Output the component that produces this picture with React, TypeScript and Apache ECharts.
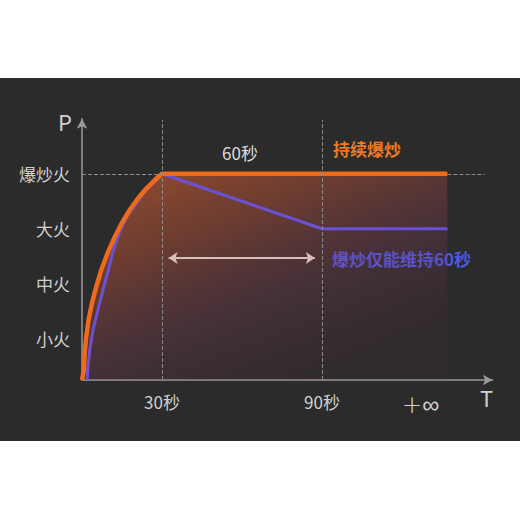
import React, { useEffect, useRef } from "react";
import * as echarts from "echarts";

const yLevels = [1, 2, 3, 4];
const yLevelNames = ["小火", "中火", "大火", "爆炒火"];
const xTickValues = [30, 90, 127];
const xTickNames = ["30秒", "90秒", "+∞"];

const orangeCurve: [number, number][] = [
  [0, 0.25], [0.75, 0.44], [1.0, 0.74], [1.6, 1.04], [2.5, 1.35],
  [3.75, 1.65], [5.36, 1.95], [7.24, 2.25], [9.86, 2.59], [12.37, 2.86],
  [14.9, 3.1], [18.0, 3.35], [21.1, 3.56], [24.3, 3.74], [27.4, 3.89],
  [30, 4], [137, 4],
];
const blueCurve: [number, number][] = [
  [1.9, 0.25], [2.25, 0.5], [2.89, 0.8], [4.12, 1.16], [6.0, 1.53],
  [7.87, 1.89], [9.9, 2.25], [11.6, 2.59], [14.2, 2.95], [16.6, 3.2],
  [19.2, 3.38], [23.6, 3.68], [29.2, 3.95], [30, 4], [90, 3], [137, 3],
];

const FONT = "'Noto Sans CJK SC', 'Noto Sans', sans-serif";

export default function App() {
  const ref = useRef<HTMLDivElement>(null);
  useEffect(() => {
    document.body.style.margin = "0";
    const chart = echarts.init(ref.current!, null, { renderer: "svg" });
    const dash = { type: "dashed", color: "#8a8a8a", width: 1 };
    chart.setOption({
      animation: false,
      grid: { left: 82, top: 118.75, width: 410.7, height: 261.25 },
      xAxis: {
        type: "value",
        min: 0,
        max: 154,
        splitLine: { show: false },
        axisTick: { show: false },
        axisLine: {
          lineStyle: { color: "#9a9a9a", width: 1.5 },
          symbol: ["none", "arrow"],
          symbolSize: [8, 10],
        },
        axisLabel: {
          customValues: xTickValues,
          formatter: (v: number) => {
            const s = xTickNames[xTickValues.indexOf(v)] ?? "";
            return s === "+∞" ? "{inf|+∞}" : s;
          },
          rich: { inf: { fontSize: 24, color: "#d0d0d0", fontFamily: "'DejaVu Sans', sans-serif", fontWeight: 200 } },
          color: "#d0d0d0",
          fontSize: 17,
          fontFamily: FONT,
          margin: 13,
        },
      },
      yAxis: {
        type: "value",
        min: 0.25,
        max: 5,
        splitLine: { show: false },
        axisTick: { show: false },
        axisLine: {
          show: true,
          lineStyle: { color: "#9a9a9a", width: 1.5 },
          symbol: ["none", "arrow"],
          symbolSize: [8, 10],
        },
        axisLabel: {
          customValues: yLevels,
          formatter: (v: number) => yLevelNames[yLevels.indexOf(v)] ?? "",
          color: "#d0d0d0",
          fontSize: 17,
          fontFamily: FONT,
          margin: 12,
        },
      },
      graphic: [
        { type: "text", left: 58, top: 110, style: { text: "P", fill: "#d0d0d0", fontSize: 22, fontFamily: FONT } },
        { type: "text", left: 480, top: 386, style: { text: "T", fill: "#d0d0d0", fontSize: 22, fontFamily: FONT } },
        { type: "text", x: 240, y: 152, style: { text: "60秒", fill: "#dcdcdc", fontSize: 17, fontFamily: FONT, align: "center", verticalAlign: "middle" } },
        { type: "text", x: 367, y: 148, style: { text: "持续爆炒", fill: "#f07a22", fontSize: 17, fontWeight: "bold", fontFamily: FONT, align: "center", verticalAlign: "middle" } },
        { type: "text", x: 332, y: 258, style: { text: "爆炒仅能维持60秒", fill: "#4d58e2", fontSize: 17, fontWeight: "bold", fontFamily: FONT, align: "left", verticalAlign: "middle" } },
      ],
      series: [
        {
          type: "line",
          data: orangeCurve,
          smooth: false,
          symbol: "none",
          z: 2,
          silent: true,
          lineStyle: { width: 0, opacity: 0 },
          areaStyle: {
            color: new echarts.graphic.LinearGradient(0, 0, 0.7, 1, [
              { offset: 0, color: "rgba(236,104,48,0.82)" },
              { offset: 0.35, color: "rgba(205,86,56,0.56)" },
              { offset: 0.68, color: "rgba(145,62,100,0.32)" },
              { offset: 1, color: "rgba(85,40,60,0.16)" },
            ]),
          },
          markLine: {
            silent: true,
            symbol: "none",
            label: { show: false },
            lineStyle: dash,
            data: [
              [{ coord: [0, 4] }, { coord: [30, 4] }],
              [{ coord: [137, 4] }, { coord: [151, 4] }],
              [{ coord: [30, 0.25] }, { coord: [30, 4.98] }],
              [{ coord: [90, 0.25] }, { coord: [90, 4.98] }],
              [
                { coord: [32.5, 2.47], symbol: "arrow", symbolSize: [9, 9], lineStyle: { type: "solid", color: "#d8c0ba", width: 2 } },
                { coord: [87.3, 2.47], symbol: "arrow", symbolSize: [9, 9] },
              ],
            ],
          },
        },
        {
          type: "line",
          data: blueCurve,
          smooth: false,
          symbol: "none",
          z: 3,
          lineStyle: { color: "#6a52d4", width: 3, join: "round" },
        },
        {
          type: "line",
          data: orangeCurve,
          smooth: false,
          symbol: "none",
          z: 4,
          lineStyle: { color: "#f06a1c", width: 4.5, join: "round" },
        },
      ],
    });
    return () => chart.dispose();
  }, []);
  return (
    <div style={{ position: "relative", width: 520, height: 520, background: "#ffffff" }}>
      <div style={{ position: "absolute", left: 0, top: 78, width: 520, height: 363, background: "#2b2b2b" }} />
      <div ref={ref} style={{ position: "absolute", left: 0, top: 0, width: 520, height: 520 }} />
    </div>
  );
}
